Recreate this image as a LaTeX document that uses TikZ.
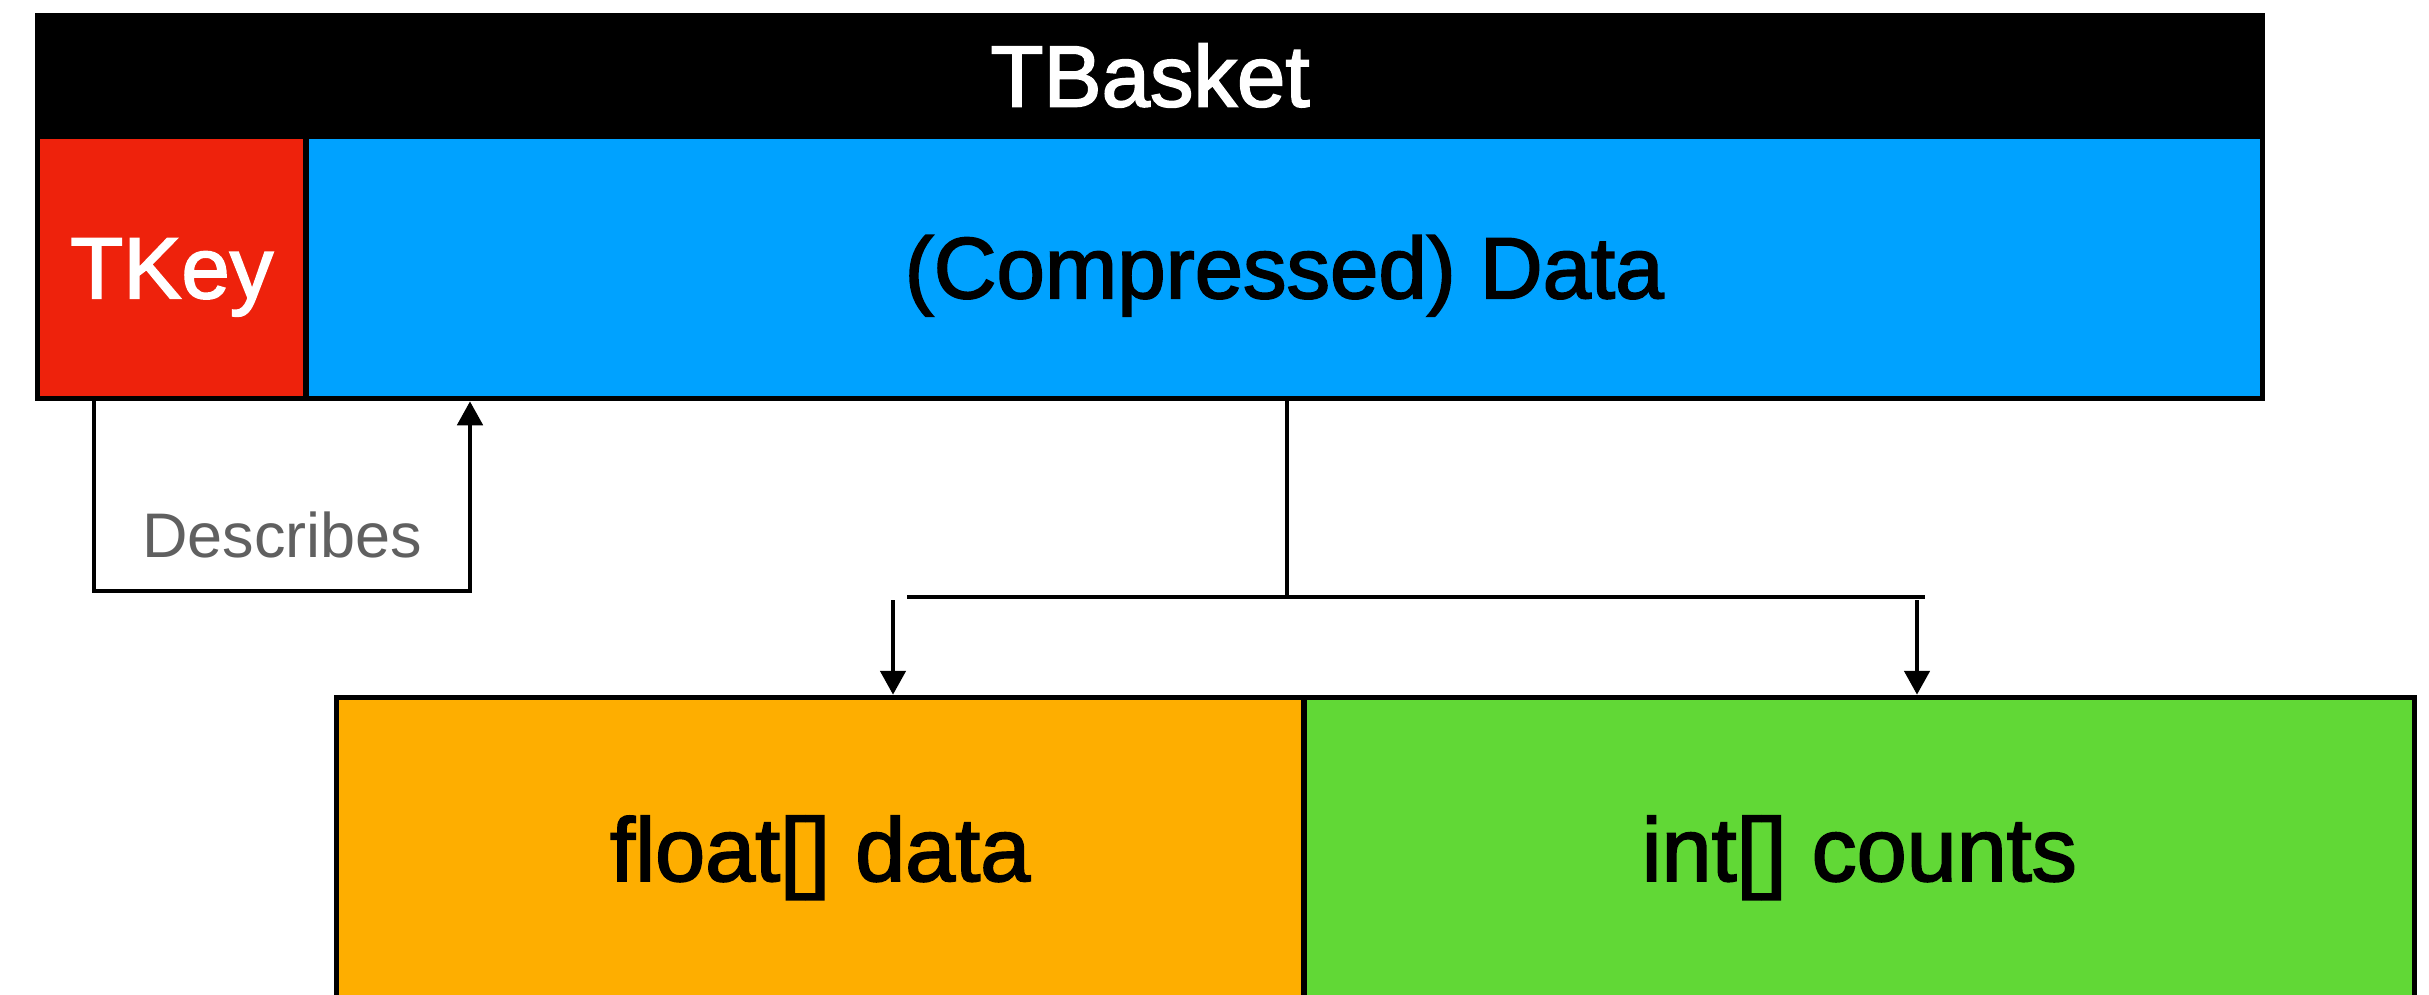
\documentclass[tikz,border=0pt]{standalone}
\usepackage{fontspec}
\setmainfont{Liberation Sans}
\newfontfamily\medfont{Liberation Sans}[FakeBold=2]
\usetikzlibrary{arrows.meta}
\definecolor{keyred}{RGB}{238,34,12}
\definecolor{datablue}{RGB}{0,162,255}
\definecolor{floatorange}{RGB}{254,174,0}
\definecolor{intgreen}{RGB}{97,216,54}
\definecolor{labelgray}{RGB}{96,96,96}
\begin{document}
\begin{tikzpicture}[x=1pt,y=-1pt,
  bigfont/.style={font=\medfont\fontsize{87}{90}\selectfont},
  box/.style={draw=black,line width=5.5pt,inner sep=0pt,text height=62pt,text depth=0pt,bigfont},
  conn/.style={line width=4.8pt,draw=black},
  arr/.style={conn,-{Triangle[width=25pt,length=24pt]}}]
\useasboundingbox (0,0) rectangle (2429,994);
\clip (0,0) rectangle (2429,994);
% top bar
\node[fill=black,text=white,minimum width=2230pt,minimum height=125pt,inner sep=0pt,
      text height=62pt,text depth=0pt,bigfont] (basket) at (1150,75.5) {TBasket};
% key and data
\node[box,fill=keyred,text=white,minimum width=268.5pt,minimum height=262.5pt] (tkey) at (171.75,267.25) {TKey};
\node[box,fill=datablue,text=black,minimum width=1956.5pt,minimum height=262.5pt] (data) at (1284.25,267.25) {(Compressed) Data};
% bottom boxes
\node[box,fill=floatorange,text=black,minimum width=967.5pt,minimum height=302.5pt,
      text height=64.5pt,font=\medfont\fontsize{90}{94}\selectfont] (fdata) at (820.25,848.75) {float[] data};
\node[box,fill=intgreen,text=black,minimum width=1110.5pt,minimum height=302.5pt,
      text height=64.5pt,font=\medfont\fontsize{90}{94}\selectfont] (icounts) at (1859.25,848.75) {int[] counts};
% describes connector
\coordinate (d1) at (94,591);
\coordinate (d2) at (470,591);
\draw[arr] (tkey.south -| d1) -- (d1) -- (d2) -- (data.south -| d2);
\node[anchor=base,text=labelgray,font=\fontsize{63}{66}\selectfont,inner sep=0pt] (desc) at (282.5,557) {Describes};
% data split connector
\coordinate (j) at (1287,597);
\coordinate (hl) at (907,597);
\coordinate (hr) at (1925,597);
\coordinate (al) at (893,600);
\coordinate (ar) at (1917,600);
\draw[conn] (data.south -| j) -- (j);
\draw[conn] (hl) -- (hr);
\draw[arr] (al) -- (fdata.north -| al);
\draw[arr] (ar) -- (icounts.north -| ar);
\end{tikzpicture}
\end{document}
